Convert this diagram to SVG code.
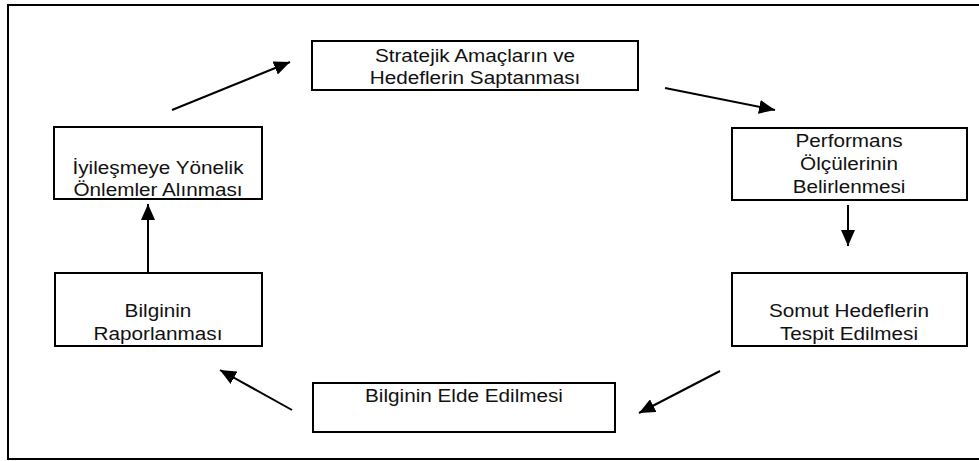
<svg xmlns="http://www.w3.org/2000/svg" width="979" height="461" viewBox="0 0 979 461">
<style>
.box{fill:#fff;stroke:#000;stroke-width:2}
.t{font-family:"Liberation Sans",Arial,sans-serif;font-size:18.5px;fill:#111;text-anchor:middle}
.c{stroke:#000;stroke-width:2;fill:none;marker-end:url(#ah)}
</style>
<defs>
<marker id="ah" markerUnits="userSpaceOnUse" markerWidth="18" markerHeight="14" refX="16" refY="7" orient="auto">
<path d="M0,0 L16,7 L0,14 z" fill="#000"/>
</marker>
</defs>
<rect x="0" y="0" width="979" height="461" fill="#fff"/>
<rect x="8" y="5" width="980" height="454" fill="none" stroke="#000" stroke-width="2"/>
<g id="n1"><rect class="box" x="312" y="41" width="326" height="49"/><text class="t" transform="translate(475,62) scale(1.12,1)">Stratejik Amaçların ve</text><text class="t" transform="translate(475,84) scale(1.12,1)">Hedeflerin Saptanması</text></g>
<g id="n2"><rect class="box" x="732" y="128" width="235" height="72"/><text class="t" transform="translate(849,147) scale(1.12,1)">Performans</text><text class="t" transform="translate(849,170) scale(1.12,1)">Ölçülerinin</text><text class="t" transform="translate(849,193) scale(1.12,1)">Belirlenmesi</text></g>
<g id="n3"><rect class="box" x="732" y="273" width="235" height="73"/><text class="t" transform="translate(849,317) scale(1.12,1)">Somut Hedeflerin</text><text class="t" transform="translate(849,340) scale(1.12,1)">Tespit Edilmesi</text></g>
<g id="n4"><rect class="box" x="313" y="383" width="302" height="49"/><text class="t" transform="translate(464,402) scale(1.12,1)">Bilginin Elde Edilmesi</text></g>
<g id="n5"><rect class="box" x="55" y="273" width="207" height="73"/><text class="t" transform="translate(158,317) scale(1.12,1)">Bilginin</text><text class="t" transform="translate(158,340) scale(1.12,1)">Raporlanması</text></g>
<g id="n6"><rect class="box" x="54" y="127" width="208" height="72"/><text class="t" transform="translate(158,174) scale(1.12,1)">İyileşmeye Yönelik</text><text class="t" transform="translate(158,196) scale(1.12,1)">Önlemler Alınması</text></g>
<g id="connectors">
<line class="c" x1="172" y1="110" x2="290" y2="62"/>
<line class="c" x1="665" y1="88" x2="775" y2="110"/>
<line class="c" x1="848" y1="205" x2="848" y2="246"/>
<line class="c" x1="720" y1="371" x2="639" y2="413"/>
<line class="c" x1="292" y1="410" x2="220" y2="370"/>
<line class="c" x1="148" y1="272" x2="148" y2="204"/>
</g>
</svg>
